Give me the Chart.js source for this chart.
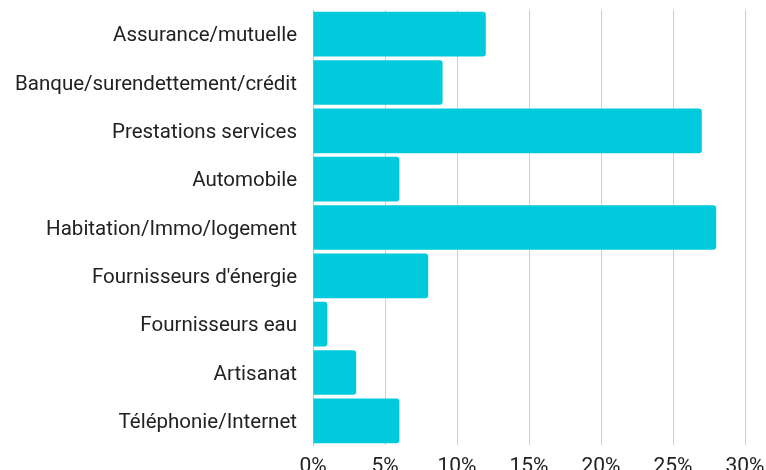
<!DOCTYPE html>
<html><head><meta charset="utf-8">
<script src="https://cdn.jsdelivr.net/npm/chart.js@4"></script>
<style>
html,body{margin:0;padding:0;overflow:hidden;background:#fff;}
#wrap{position:relative;width:766px;height:490px;}
</style></head>
<body><div id="wrap"><canvas id="c"></canvas></div>
<script>
const categories = ["Assurance/mutuelle","Banque/surendettement/crédit","Prestations services","Automobile","Habitation/Immo/logement","Fournisseurs d'énergie","Fournisseurs eau","Artisanat","Téléphonie/Internet"];
const values = [12, 9, 27, 6, 28, 8, 1, 3, 6];
const xTicks = [0, 5, 10, 15, 20, 25, 30];

const FONT = "Roboto";
new Chart(document.getElementById('c'), {
  type: 'bar',
  data: {
    labels: categories,
    datasets: [{
      data: values,
      backgroundColor: '#00CADC',
      borderColor: '#00CADC',
      borderWidth: 0,
      borderRadius: 3,
      borderSkipped: 'start',
      barPercentage: 0.925,
      categoryPercentage: 1.0
    }]
  },
  options: {
    indexAxis: 'y',
    responsive: true,
    maintainAspectRatio: false,
    animation: false,
    layout: { padding: { top: 10, right: 21, left: 0, bottom: 0 } },
    plugins: { legend: { display: false }, tooltip: { enabled: false } },
    scales: {
      x: {
        min: 0, max: 30,
        afterBuildTicks: s => { s.ticks = xTicks.map(v => ({ value: v })); },
        afterFit: s => { s.height = 45; s.paddingLeft = 0; s.paddingRight = 0; },
        grid: { color: '#d0d0d0', lineWidth: 1, drawTicks: false },
        border: { display: false },
        ticks: { padding: 9, color: '#222', font: { family: FONT, size: 21 }, callback: v => v + '%' }
      },
      y: {
        afterFit: s => { s.width = 313; s.paddingTop = 0; s.paddingBottom = 0; },
        grid: { display: false },
        border: { display: true, color: '#bdbdbd', width: 1 },
        ticks: { padding: 8, labelOffset: 2, color: '#222', font: { family: FONT, size: 20.5 } }
      }
    }
  }
});
</script></body></html>
